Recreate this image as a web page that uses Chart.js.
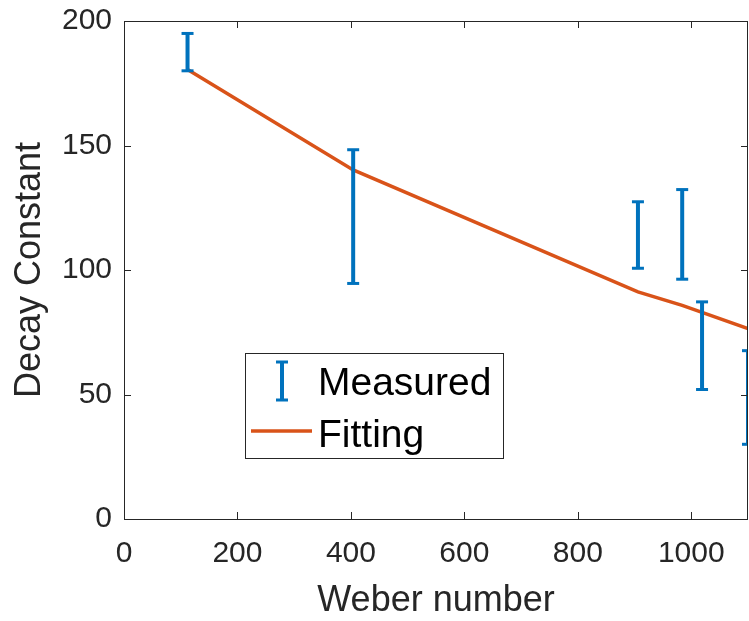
<!DOCTYPE html>
<html>
<head>
<meta charset="utf-8">
<script src="https://cdn.jsdelivr.net/npm/chart.js@4.4.1/dist/chart.umd.min.js"></script>
<style>
  html, body { margin: 0; padding: 0; background: #fff; }
  #wrap { width: 749px; height: 621px; }
</style>
</head>
<body>
<div id="wrap"><canvas id="myChart" width="749" height="621"></canvas></div>
<script>
// measured decay constants (low / high end of each bar) against Weber number
const weber = [112, 404, 906, 984, 1019, 1100];
const decayLow = [180, 94.6, 100.7, 96.3, 52, 30];
const decayHigh = [195, 148.3, 127.4, 132.3, 87.2, 67.6];
// fitted curve at the same Weber numbers
const fitted = [180.5, 140.2, 91.2, 85.8, 83, 76.5];

const xTicks = [0, 200, 400, 600, 800, 1000];
const yTicks = [0, 50, 100, 150, 200];

const blue = '#0072BD';
const orange = '#D95319';
const axisColor = '#262626';
const fontFamily = '"Liberation Sans", Arial, Helvetica, sans-serif';

// one line dataset for all bars, each bar split off by a null point
let barPoints = [];
weber.forEach((w, i) => {
    barPoints.push({ x: w, y: decayLow[i] });
    barPoints.push({ x: w, y: decayHigh[i] });
    barPoints.push({ x: w, y: null });
});

let fitPoints = weber.map((w, i) => ({ x: w, y: fitted[i] }));

// box round the plot with inward tick marks on all four sides
const axesBox = {
    id: 'axesBox',
    afterDatasetsDraw(chart) {
        const ctx = chart.ctx;
        const a = chart.chartArea;
        const xs = chart.scales.x;
        const ys = chart.scales.y;
        const len = 7;
        ctx.save();
        ctx.strokeStyle = axisColor;
        ctx.lineWidth = 1;
        ctx.beginPath();
        xTicks.forEach(v => {
            const px = Math.round(xs.getPixelForValue(v)) + 0.5;
            ctx.moveTo(px, a.bottom); ctx.lineTo(px, a.bottom - len);
            ctx.moveTo(px, a.top); ctx.lineTo(px, a.top + len);
        });
        yTicks.forEach(v => {
            const py = Math.round(ys.getPixelForValue(v)) + 0.5;
            ctx.moveTo(a.left, py); ctx.lineTo(a.left + len, py);
            ctx.moveTo(a.right, py); ctx.lineTo(a.right - len, py);
        });
        ctx.stroke();
        ctx.strokeRect(Math.round(a.left) + 0.5, Math.round(a.top) + 0.5,
                       Math.round(a.right - a.left) - 1, Math.round(a.bottom - a.top));
        ctx.restore();
    }
};

// legend box inside the plot: error bar glyph and line sample
const boxLegend = {
    id: 'boxLegend',
    afterDraw(chart) {
        const ctx = chart.ctx;
        const a = chart.chartArea;
        const x0 = a.left + 121, y0 = a.top + 332;
        const w = 258, h = 105;
        ctx.save();
        ctx.fillStyle = '#fff';
        ctx.fillRect(x0, y0, w, h);
        ctx.strokeStyle = axisColor;
        ctx.lineWidth = 1;
        ctx.strokeRect(x0 + 0.5, y0 + 0.5, w, h);

        // error bar glyph
        const gx = x0 + 37;
        ctx.strokeStyle = blue;
        ctx.lineWidth = 4;
        ctx.beginPath();
        ctx.moveTo(gx, y0 + 9); ctx.lineTo(gx, y0 + 47);
        ctx.stroke();
        ctx.lineWidth = 3;
        ctx.beginPath();
        ctx.moveTo(gx - 6, y0 + 9); ctx.lineTo(gx + 6, y0 + 9);
        ctx.moveTo(gx - 6, y0 + 47); ctx.lineTo(gx + 6, y0 + 47);
        ctx.stroke();

        // fitted line sample
        ctx.strokeStyle = orange;
        ctx.lineWidth = 3.5;
        ctx.beginPath();
        ctx.moveTo(x0 + 6, y0 + 78); ctx.lineTo(x0 + 67, y0 + 78);
        ctx.stroke();

        ctx.fillStyle = '#000';
        ctx.font = '39px ' + fontFamily;
        ctx.textBaseline = 'alphabetic';
        ctx.textAlign = 'left';
        ctx.fillText('Measured', x0 + 73, y0 + 42);
        ctx.fillText('Fitting', x0 + 73, y0 + 94);
        ctx.restore();
    }
};

const ctx = document.getElementById('myChart');
new Chart(ctx, {
    type: 'line',
    data: {
        datasets: [{
            label: 'Measured',
            data: barPoints,
            borderColor: blue,
            backgroundColor: blue,
            borderWidth: 4,
            pointStyle: 'line',
            pointRadius: 6,
            pointBorderWidth: 3,
            pointBorderColor: blue,
            spanGaps: false,
            order: 1
        }, {
            label: 'Fitting',
            data: fitPoints,
            borderColor: orange,
            borderWidth: 3.5,
            pointRadius: 0,
            tension: 0,
            order: 2
        }]
    },
    options: {
        responsive: false,
        animation: false,
        devicePixelRatio: 1,
        layout: {
            autoPadding: false,
            padding: { top: 21, right: 1, left: 0, bottom: 0 }
        },
        plugins: {
            legend: { display: false },
            tooltip: { enabled: false }
        },
        scales: {
            x: {
                type: 'linear',
                min: 0,
                max: 1100,
                afterBuildTicks: (scale) => { scale.ticks = xTicks.map(v => ({ value: v })); },
                afterFit: (scale) => {
                    scale.height = 102;
                    scale.paddingLeft = 0;
                    scale.paddingRight = 0;
                },
                grid: { display: false, drawTicks: false },
                border: { display: false },
                ticks: {
                    color: axisColor,
                    padding: 17,
                    maxRotation: 0,
                    autoSkip: false,
                    callback: (v) => String(v),
                    font: { family: fontFamily, size: 30 }
                },
                title: {
                    display: true,
                    text: 'Weber number',
                    color: axisColor,
                    padding: { top: 0, bottom: 2 },
                    font: { family: fontFamily, size: 36, lineHeight: 1.0 }
                }
            },
            y: {
                type: 'linear',
                min: 0,
                max: 200,
                afterBuildTicks: (scale) => { scale.ticks = yTicks.map(v => ({ value: v })); },
                afterFit: (scale) => {
                    scale.width = 124;
                    scale.paddingTop = 0;
                    scale.paddingBottom = 0;
                },
                grid: { display: false, drawTicks: false },
                border: { display: false },
                ticks: {
                    color: axisColor,
                    padding: 12,
                    autoSkip: false,
                    callback: (v) => String(v),
                    font: { family: fontFamily, size: 30 }
                },
                title: {
                    display: true,
                    text: 'Decay Constant',
                    color: axisColor,
                    padding: { top: 8, bottom: 0 },
                    font: { family: fontFamily, size: 36 }
                }
            }
        }
    },
    plugins: [axesBox, boxLegend]
});
</script>
</body>
</html>
